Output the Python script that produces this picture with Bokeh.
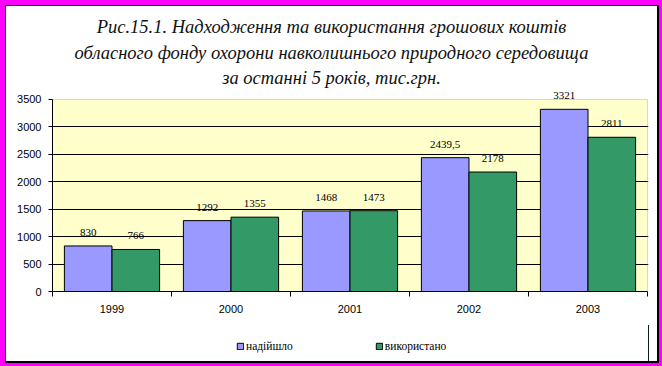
from bokeh.plotting import figure
from bokeh.layouts import column
from bokeh.models import (Range1d, FixedTicker, SingleIntervalTicker, ColumnDataSource,
                          LabelSet, Legend, LegendItem, BoxAnnotation)
from bokeh.embed import file_html
from bokeh.resources import INLINE

years = ["1999", "2000", "2001", "2002", "2003"]
received = [830, 1292, 1468, 2439.5, 3321]
used = [766, 1355, 1473, 2178, 2811]
received_labels = ["830", "1292", "1468", "2439,5", "3321"]
used_labels = ["766", "1355", "1473", "2178", "2811"]
series_names = ["надійшло", "використано"]
series_colors = ["#9999FF", "#339966"]
title_lines = [
    "Рис.15.1. Надходження та використання грошових коштів",
    "обласного фонду охорони навколишнього природного середовища",
    "за останні 5 років, тис.грн.",
]
y_max = 3500
y_step = 500

W = 651
TH, MH, BH = 84, 235, 36
FRAME_W = 596          # plot-area width in px (shared by the three stacked figures)

# ---------- title strip ----------
t = figure(width=W, height=TH, output_backend="svg", toolbar_location=None,
           x_range=Range1d(0, FRAME_W), y_range=Range1d(TH, 0),
           min_border=0, border_fill_color="white", background_fill_color="white")
t.axis.visible = False
t.grid.visible = False
t.outline_line_color = None
t.text(x=[279] * 3, y=[20.5, 46, 71], text=title_lines,
       text_align="center", text_baseline="alphabetic",
       text_font="Liberation Serif", text_font_style="italic",
       text_font_size="18.5px", text_color="#111111")

# ---------- main chart ----------
n = len(years)
p = figure(width=W, height=MH, output_backend="svg", toolbar_location=None,
           x_range=Range1d(0, n * FRAME_W / (FRAME_W - 1)), y_range=Range1d(0, 3664),
           min_border_left=46, min_border_right=9, min_border_top=0, min_border_bottom=34,
           background_fill_color="white", border_fill_color="white")
p.outline_line_color = None

p.add_layout(BoxAnnotation(left=0, right=n, bottom=0, top=y_max, fill_color="#FFFFCC",
                           fill_alpha=1, line_color=None, level="image"))

idx = list(range(n))
src1 = ColumnDataSource(dict(x=[i + 0.3 for i in idx], top=received, lab=received_labels))
src2 = ColumnDataSource(dict(x=[i + 0.7 for i in idx], top=used, lab=used_labels))

r1 = p.vbar(x="x", top="top", width=0.4, source=src1, fill_color=series_colors[0],
            line_color="black", line_width=1)
r2 = p.vbar(x="x", top="top", width=0.4, source=src2, fill_color=series_colors[1],
            line_color="black", line_width=1)

p.xgrid.grid_line_color = None
p.ygrid.ticker = FixedTicker(ticks=list(range(y_step, y_max, y_step)))
p.ygrid.grid_line_color = "black"
p.ygrid.grid_line_width = 1

p.add_layout(BoxAnnotation(left=0, right=n, bottom=0, top=y_max, fill_alpha=0,
                           line_color="#808080", line_width=1, level="underlay"))

# y axis
p.yaxis.ticker = SingleIntervalTicker(interval=y_step)
p.yaxis.bounds = (0, y_max)
p.yaxis.major_tick_out = 4
p.yaxis.major_tick_in = 0
p.yaxis.minor_tick_out = 0
p.yaxis.minor_tick_in = 0
p.yaxis.major_label_standoff = 7
p.yaxis.major_label_text_font = "Liberation Sans"
p.yaxis.major_label_text_font_size = "11px"
p.yaxis.major_label_text_color = "black"
p.yaxis.axis_line_color = "black"

# x axis: labels at category centres, tick marks at category boundaries
centres = [i + 0.5 for i in idx]
p.xaxis.ticker = FixedTicker(ticks=centres, minor_ticks=list(range(n + 1)))
p.xaxis.major_label_overrides = {c: y for c, y in zip(centres, years)}
p.xaxis.bounds = (0, n)
p.xaxis.major_tick_out = 0
p.xaxis.major_tick_in = 0
p.xaxis.minor_tick_out = 5
p.xaxis.minor_tick_in = 0
p.xaxis.major_label_standoff = 8
p.xaxis.major_label_text_font = "Liberation Sans"
p.xaxis.major_label_text_font_size = "11px"
p.xaxis.major_label_text_color = "black"
p.xaxis.axis_line_color = "black"

for src in (src1, src2):
    p.add_layout(LabelSet(x="x", y="top", text="lab", source=src, y_offset=10,
                          text_align="center", text_baseline="alphabetic",
                          text_font="Liberation Sans", text_font_size="11px", text_color="black"))

# ---------- legend strip ----------
b = figure(width=W, height=BH, output_backend="svg", toolbar_location=None,
           x_range=Range1d(-20, -19), y_range=Range1d(0, 1),
           min_border=0, border_fill_color="white", background_fill_color="white")
b.axis.visible = False
b.grid.visible = False
b.outline_line_color = None
# legend keys (same data, kept outside the visible range of this strip)
k1 = b.vbar(x="x", top="top", width=0.4, source=src1, fill_color=series_colors[0], line_color="black")
k2 = b.vbar(x="x", top="top", width=0.4, source=src2, fill_color=series_colors[1], line_color="black")
legend = Legend(items=[LegendItem(label=series_names[0], renderers=[k1]),
                       LegendItem(label=series_names[1], renderers=[k2])],
                orientation="horizontal", location=(184, 9),
                glyph_width=8, glyph_height=8, label_standoff=2, spacing=82,
                label_text_font="Liberation Serif", label_text_font_size="11.5px",
                label_text_color="black", label_height=8,
                border_line_color=None, background_fill_alpha=0, margin=0, padding=0)
b.add_layout(legend, "center")

inner = column(t, p, b, spacing=0, styles={"background-color": "white"})
middle = column(inner, spacing=0,
                styles={"background-color": "black", "padding": "1px 2px 2px 1px"})
page = column(middle, spacing=0,
              styles={"background-color": "#FF00FF", "padding": "5px 3px 3px 5px"})

open("out.html", "w").write(file_html(page, INLINE))
